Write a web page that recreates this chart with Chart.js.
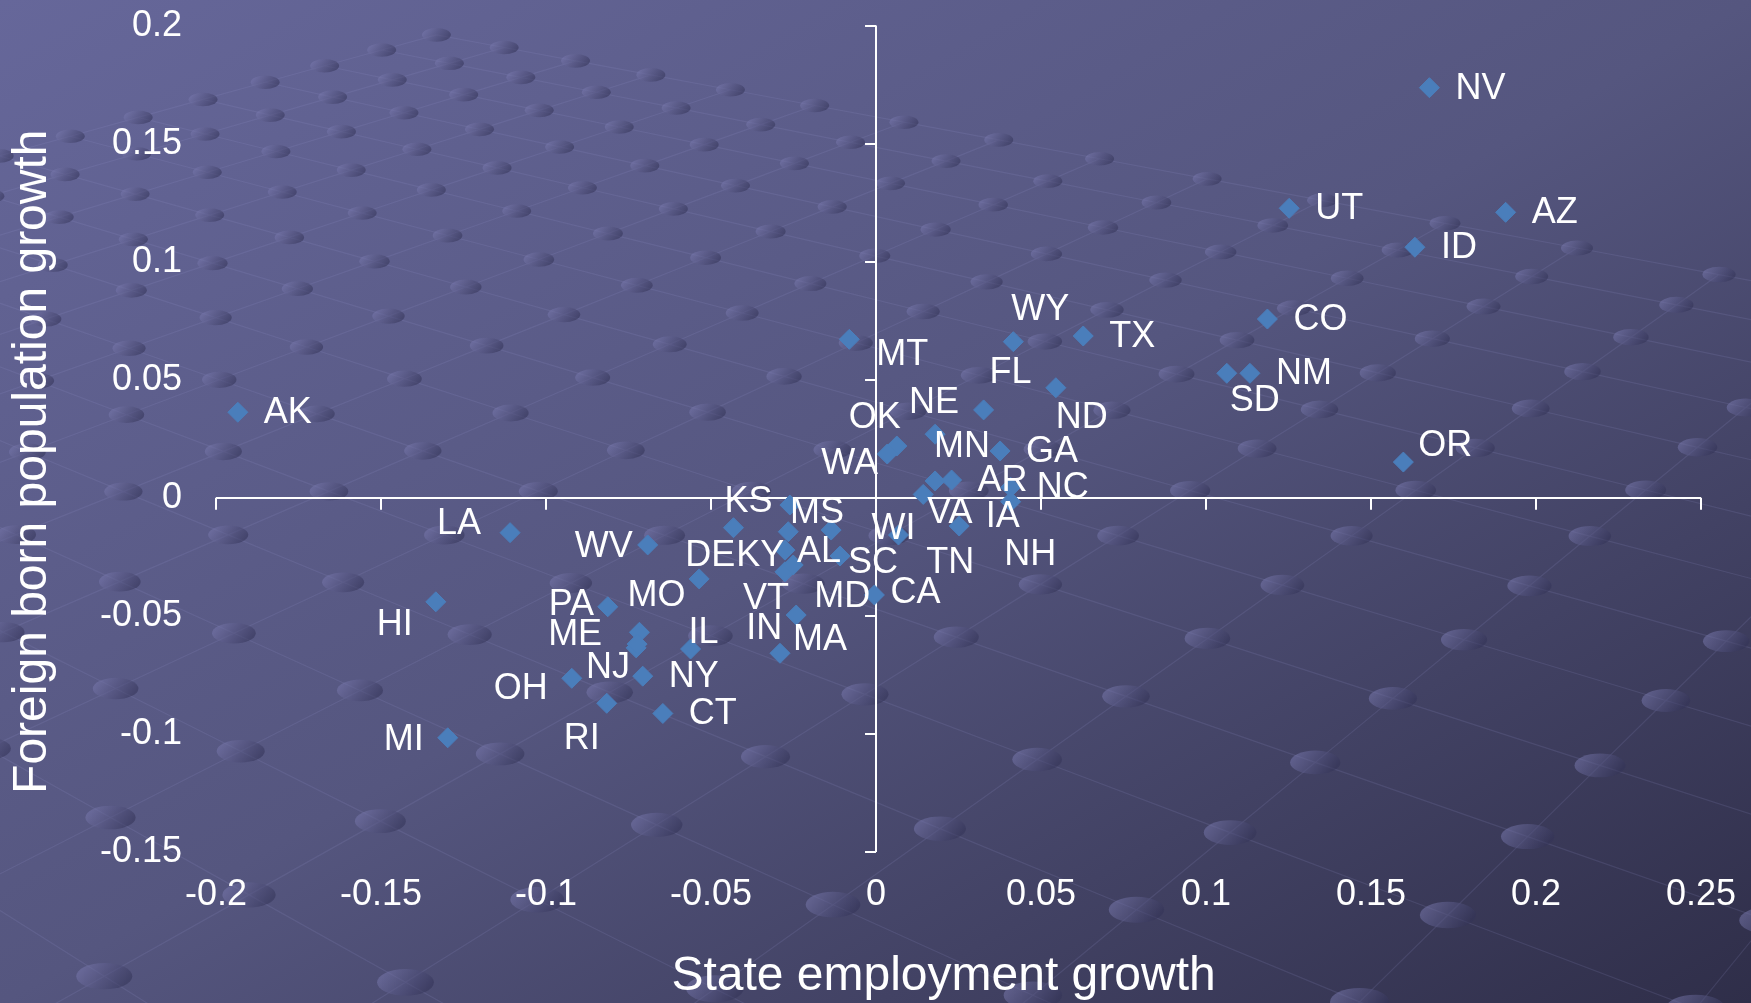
<!DOCTYPE html>
<html>
<head>
<meta charset="utf-8">
<script src="https://cdn.jsdelivr.net/npm/chart.js"></script>
<style>
  html, body { margin: 0; padding: 0; overflow: hidden; }
  #wrap {
    position: relative; width: 1751px; height: 1003px;
    background: linear-gradient(to bottom right, #66679a 0%, #55567f 50%, #2f2e49 100%);
  }
</style>
</head>
<body>
<div id="wrap"><canvas id="chart" width="1751" height="1003"></canvas></div>
<script>
// values
const states = ["NV","UT","AZ","ID","CO","SD","NM","OR","AK","LA","WV","HI","MI","PA","MO","ME","NJ","OH","RI","IL","NY","CT",
  "KS","DE","MS","KY","AL","SC","VT","MD","IN","MA","CA","WI","TN","MT","WY","TX","ND","FL","NE","GA","OK","WA","MN","AR","VA","NC","IA","NH"];
const employmentGrowth = [0.1677,0.1252,0.1908,0.1633,0.1186,0.1063,0.1133,0.1598,-0.1934,-0.1109,-0.0692,-0.1334,-0.1298,-0.0813,-0.0717,-0.0727,-0.0724,-0.0922,-0.0816,-0.0562,-0.0707,-0.0646,
  -0.0432,-0.0536,-0.0261,-0.0266,-0.0276,-0.0109,-0.0276,-0.0251,-0.0242,-0.0291,-0.0005,0.0068,-0.0136,-0.0081,0.0416,0.0628,0.0545,0.0326,0.0179,0.0376,0.0063,0.0034,0.0179,0.0229,0.0143,0.0408,0.0408,0.0252];
const foreignBornGrowth = [0.1737,0.1226,0.1209,0.1061,0.0757,0.0527,0.0527,0.0151,0.0362,-0.0148,-0.0200,-0.0441,-0.1017,-0.0462,-0.0570,-0.0636,-0.0620,-0.0765,-0.0871,-0.0641,-0.0756,-0.0914,
  -0.0127,-0.0344,-0.0031,-0.0144,-0.0222,-0.0247,-0.0314,-0.0285,-0.0497,-0.0659,-0.0412,-0.0158,-0.0137,0.0671,0.0661,0.0685,0.0466,0.0372,0.0269,0.0198,0.0219,0.0185,0.0071,0.0075,0.0014,0.0044,-0.0017,-0.0120];

const xTicks = [-0.2,-0.15,-0.1,-0.05,0,0.05,0.1,0.15,0.2,0.25];
const yTicks = [-0.15,-0.1,-0.05,0,0.05,0.1,0.15,0.2];
const xTitle = "State employment growth";
const yTitle = "Foreign born population growth";

// where each label sits relative to its marker (left edge, middle), in px; default is to the right
const labelDefault = [26, 1];
const labelOffsets = {
  SD:[3,28], OR:[15,-16], LA:[-73,-9], WV:[-73,2], HI:[-59,23], MI:[-64,2], PA:[-59,-2], MO:[-12,-36],
  ME:[-88,-13], NJ:[-51,24], OH:[-78,11], RI:[-43,36], IL:[-2,-16], KS:[-9,-26], DE:[-14,-23], KY:[-52,24],
  MS:[0,8], AL:[12,2], SC:[8,7], VT:[-42,27], MD:[21,32], IN:[-50,14], MA:[13,-13], CA:[16,-2], WI:[-27,-6],
  TN:[95,33], MT:[27,16], WY:[-2,-32], ND:[0,30], FL:[6,-37], NE:[-26,-31], OK:[-48,-28], WA:[-66,10],
  MN:[-1,-34], VA:[4,19], IA:[-25,15], NH:[45,29]
};

const FONT = '"Liberation Sans", Arial, sans-serif';
const points = states.map((s, i) => ({x: employmentGrowth[i], y: foreignBornGrowth[i]}));

// slide backdrop: a plane of studs seen in perspective (decoration only)
const H = {a: 79.06, b: -89.9, c: 1577, d: 16.49, e: 20.37, f: 248, g: -0.03664, h: -0.0291};
function project(i, j) {
  const w = H.g * i + H.h * j + 1;
  return {x: (H.a * i + H.b * j + H.c) / w, y: (H.d * i + H.e * j + H.f) / w, w: w};
}
const backdrop = {
  id: 'backdrop',
  beforeDraw(chart) {
    const ctx = chart.ctx;
    const W = chart.width, Ht = chart.height;
    const I0 = -12, I1 = 8, J1 = 24;
    const ok = p => p.w > 0.25;
    ctx.save();
    ctx.strokeStyle = 'rgba(150,150,205,0.16)';
    ctx.lineWidth = 1.2;
    ctx.beginPath();
    for (let i = I0; i <= I1; i++) {
      let first = true;
      for (let j = 0; j <= J1; j++) {
        const p = project(i, j);
        if (!ok(p)) break;
        if (first) { ctx.moveTo(p.x, p.y); first = false; } else ctx.lineTo(p.x, p.y);
      }
    }
    for (let j = 0; j <= J1; j++) {
      let first = true;
      for (let i = I0; i <= I1; i++) {
        const p = project(i, j);
        if (!ok(p)) { first = true; continue; }
        if (first) { ctx.moveTo(p.x, p.y); first = false; } else ctx.lineTo(p.x, p.y);
      }
    }
    ctx.stroke();
    for (let j = 0; j <= J1; j++) {
      for (let i = I0; i <= I1; i++) {
        const p = project(i, j);
        if (!ok(p)) continue;
        const rx = Math.max(16 / p.w, 14.5), ry = rx * 0.47;
        if (p.x < -rx || p.x > W + rx || p.y < -ry || p.y > Ht + ry) continue;
        const gr = ctx.createLinearGradient(p.x - rx * 0.6, p.y - ry, p.x + rx * 0.6, p.y + ry);
        gr.addColorStop(0, 'rgba(118,118,170,0.55)');
        gr.addColorStop(1, 'rgba(52,52,88,0.55)');
        ctx.fillStyle = gr;
        ctx.beginPath();
        ctx.ellipse(p.x, p.y, rx, ry, 0, 0, Math.PI * 2);
        ctx.fill();
      }
    }
    ctx.restore();
  }
};

// axes cross at zero, tick marks hang off the zero lines
const zeroAxisTicks = {
  id: 'zeroAxisTicks',
  beforeDatasetsDraw(chart) {
    const {ctx, scales: {x, y}} = chart;
    const x0 = x.getPixelForValue(0), y0 = y.getPixelForValue(0);
    ctx.save();
    ctx.strokeStyle = '#ffffff';
    ctx.lineWidth = 2;
    ctx.beginPath();
    yTicks.forEach(v => { const py = Math.round(y.getPixelForValue(v)); ctx.moveTo(x0 - 11, py); ctx.lineTo(x0, py); });
    xTicks.forEach(v => { const px = Math.round(x.getPixelForValue(v)); ctx.moveTo(px, y0); ctx.lineTo(px, y0 + 12); });
    ctx.stroke();
    ctx.restore();
  }
};

const stateLabels = {
  id: 'stateLabels',
  afterDatasetsDraw(chart) {
    const {ctx} = chart;
    const meta = chart.getDatasetMeta(0);
    ctx.save();
    ctx.font = '36px ' + FONT;
    ctx.fillStyle = '#ffffff';
    ctx.textAlign = 'left';
    ctx.textBaseline = 'middle';
    meta.data.forEach((pt, i) => {
      const off = labelOffsets[states[i]] || labelDefault;
      ctx.fillText(states[i], pt.x + off[0], pt.y + off[1]);
    });
    ctx.restore();
  }
};

// axis titles sit a little off centre in the original, so they are placed by hand
const axisTitles = {
  id: 'axisTitles',
  afterDraw(chart) {
    const {ctx, chartArea: a} = chart;
    ctx.save();
    ctx.fillStyle = '#ffffff';
    ctx.font = '48px ' + FONT;
    ctx.textAlign = 'center';
    ctx.textBaseline = 'middle';
    ctx.fillText(xTitle, (a.left + a.right) / 2 - 15, chart.height - 26);
    ctx.translate(33, (a.top + a.bottom) / 2 + 23);
    ctx.rotate(-Math.PI / 2);
    ctx.fillText(yTitle, 0, 0);
    ctx.restore();
  }
};

const zeroLine = c => (c.tick && c.tick.value === 0) ? '#ffffff' : 'rgba(0,0,0,0)';

new Chart(document.getElementById('chart'), {
  type: 'scatter',
  data: {
    datasets: [{
      data: points,
      pointStyle: 'rectRot',
      pointRadius: 10,
      borderWidth: 1,
      backgroundColor: '#4a7ebb',
      borderColor: '#4a7ebb'
    }]
  },
  options: {
    responsive: false,
    animation: false,
    devicePixelRatio: 1,
    layout: {padding: {top: 0, right: 50, bottom: 82, left: 96}},
    plugins: {legend: {display: false}, tooltip: {enabled: false}},
    scales: {
      x: {
        type: 'linear', min: -0.2, max: 0.25,
        afterBuildTicks: s => { s.ticks = xTicks.map(v => ({value: v})); },
        ticks: {color: '#ffffff', font: {family: FONT, size: 36}, padding: 4, autoSkip: false, maxRotation: 0, callback: v => String(v)},
        grid: {drawTicks: true, tickLength: 18, tickColor: 'rgba(0,0,0,0)', lineWidth: 2, color: zeroLine},
        border: {display: false},
        title: {display: false}
      },
      y: {
        type: 'linear', min: -0.15, max: 0.2,
        afterBuildTicks: s => { s.ticks = yTicks.map(v => ({value: v})); },
        ticks: {color: '#ffffff', font: {family: FONT, size: 36}, padding: 4, autoSkip: false, callback: v => String(v)},
        grid: {drawTicks: true, tickLength: 30, tickColor: 'rgba(0,0,0,0)', lineWidth: 2, color: zeroLine},
        border: {display: false},
        title: {display: false}
      }
    }
  },
  plugins: [backdrop, zeroAxisTicks, stateLabels, axisTitles]
});
</script>
</body>
</html>
